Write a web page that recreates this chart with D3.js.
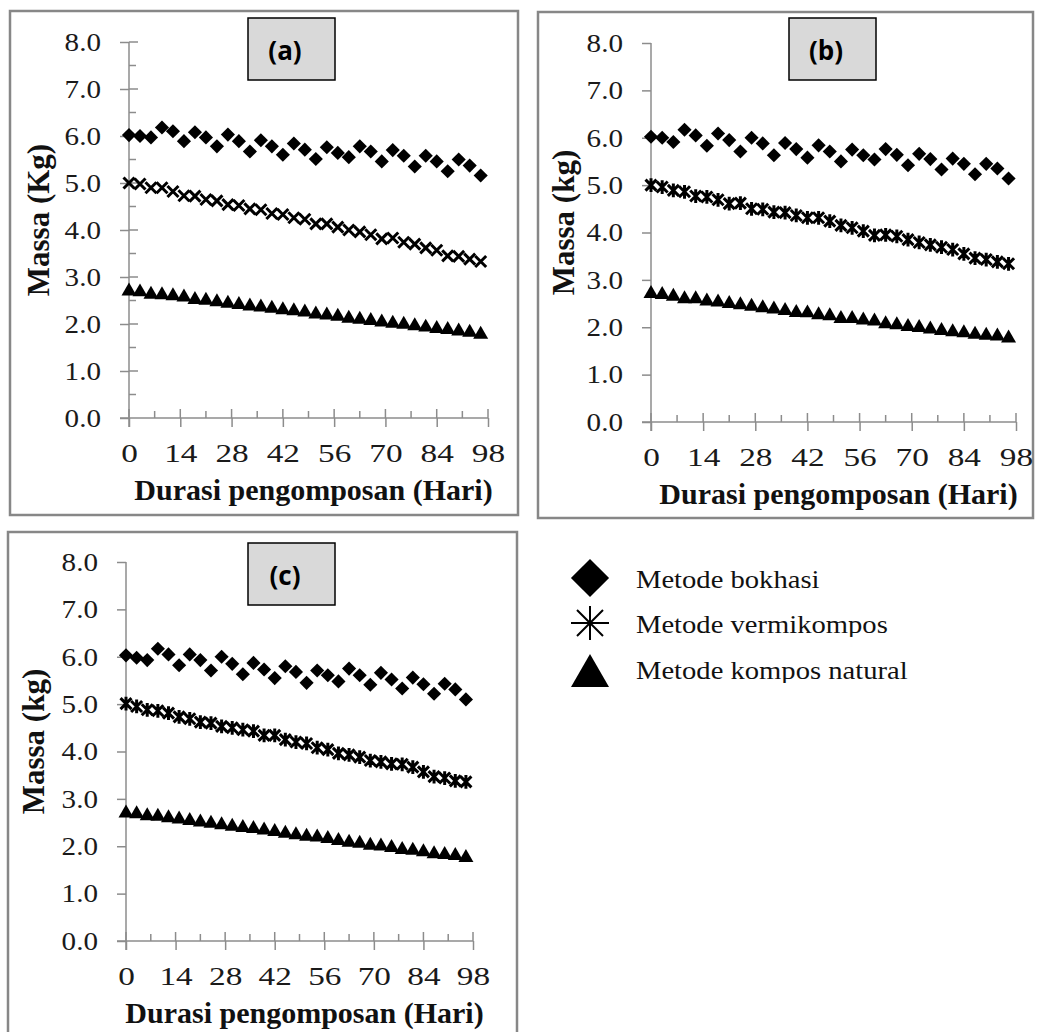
<!DOCTYPE html>
<html>
<head>
<meta charset="utf-8">
<script src="https://cdn.jsdelivr.net/npm/d3@7"></script>
<style>
  body { margin: 0; background: #fff; }
  svg { display: block; }
</style>
</head>
<body>
<div id="chart"></div>
<script>
// hari pengamatan (setiap 3 hari)
const days = [0, 3, 6, 9, 12, 15, 18, 21, 24, 27, 30, 33, 36, 39, 42, 45, 48, 51, 54, 57, 60, 63, 66, 69, 72, 75, 78, 81, 84, 87, 90, 93, 96];
const xTicks = [0, 14, 28, 42, 56, 70, 84, 98];
const xMinorTicks = [7, 21, 35, 49, 63, 77, 91];
const yTicks = [0, 1, 2, 3, 4, 5, 6, 7, 8];
const yMinorTicks = [0.5, 1.5, 2.5, 3.5, 4.5, 5.5, 6.5, 7.5];

// panel (a)
const bokhasiA = [6.02, 6.0, 5.97, 6.18, 6.1, 5.89, 6.08, 5.97, 5.78, 6.03, 5.89, 5.67, 5.91, 5.78, 5.6, 5.84, 5.71, 5.51, 5.76, 5.64, 5.55, 5.78, 5.67, 5.46, 5.7, 5.58, 5.35, 5.58, 5.46, 5.25, 5.5, 5.37, 5.16];
const vermiA = [5.0, 4.98, 4.9, 4.9, 4.82, 4.73, 4.72, 4.65, 4.62, 4.54, 4.52, 4.45, 4.43, 4.35, 4.33, 4.26, 4.23, 4.13, 4.13, 4.06, 4.0, 3.96, 3.9, 3.81, 3.83, 3.74, 3.7, 3.62, 3.57, 3.45, 3.44, 3.38, 3.33];
const naturalA = [2.7, 2.68, 2.63, 2.62, 2.6, 2.57, 2.52, 2.5, 2.47, 2.44, 2.41, 2.38, 2.36, 2.33, 2.3, 2.28, 2.25, 2.21, 2.19, 2.16, 2.12, 2.1, 2.07, 2.04, 2.01, 1.99, 1.96, 1.93, 1.9, 1.88, 1.85, 1.82, 1.78];

// panel (b)
const bokhasiB = [6.02, 6.0, 5.91, 6.17, 6.05, 5.83, 6.09, 5.95, 5.71, 6.0, 5.88, 5.63, 5.89, 5.76, 5.58, 5.84, 5.71, 5.5, 5.75, 5.63, 5.54, 5.76, 5.64, 5.42, 5.66, 5.55, 5.33, 5.56, 5.45, 5.23, 5.45, 5.35, 5.14];
const vermiB = [5.0, 4.96, 4.89, 4.86, 4.77, 4.75, 4.69, 4.61, 4.62, 4.5, 4.49, 4.43, 4.42, 4.36, 4.31, 4.31, 4.24, 4.15, 4.1, 4.03, 3.94, 3.95, 3.92, 3.85, 3.79, 3.74, 3.69, 3.64, 3.55, 3.46, 3.43, 3.38, 3.34];
const naturalB = [2.71, 2.69, 2.65, 2.6, 2.6, 2.55, 2.53, 2.5, 2.47, 2.44, 2.41, 2.38, 2.35, 2.31, 2.3, 2.26, 2.24, 2.18, 2.18, 2.15, 2.13, 2.07, 2.05, 2.01, 1.99, 1.96, 1.93, 1.9, 1.88, 1.85, 1.83, 1.81, 1.77];

// panel (c)
const bokhasiC = [6.03, 5.98, 5.93, 6.17, 6.05, 5.82, 6.05, 5.93, 5.71, 6.0, 5.85, 5.63, 5.87, 5.73, 5.55, 5.8, 5.68, 5.45, 5.71, 5.61, 5.48, 5.75, 5.61, 5.41, 5.66, 5.52, 5.33, 5.56, 5.42, 5.22, 5.43, 5.31, 5.1];
const vermiC = [5.01, 4.95, 4.88, 4.86, 4.81, 4.73, 4.69, 4.62, 4.6, 4.53, 4.5, 4.46, 4.43, 4.34, 4.34, 4.25, 4.2, 4.17, 4.08, 4.04, 3.96, 3.93, 3.88, 3.81, 3.78, 3.74, 3.73, 3.67, 3.57, 3.47, 3.44, 3.38, 3.36];
const naturalC = [2.7, 2.68, 2.64, 2.63, 2.6, 2.57, 2.54, 2.51, 2.48, 2.45, 2.42, 2.39, 2.37, 2.34, 2.31, 2.27, 2.24, 2.21, 2.19, 2.16, 2.12, 2.08, 2.06, 2.02, 2.0, 1.97, 1.93, 1.91, 1.88, 1.84, 1.82, 1.8, 1.76];

const legendLabels = ["Metode bokhasi", "Metode vermikompos", "Metode kompos natural"];

const W = 1037, H = 1032;
const serif = "'Liberation Serif', 'Times New Roman', serif";
const axisColor = "#8c8c8c";

const svg = d3.select("#chart").append("svg")
    .attr("width", W)
    .attr("height", H);

// pengaturan tata letak tiap panel
const panels = [
    { tag: "(a)", box: [10, 11, 508, 504], x0: 129, x1: 488, y0: 418, y1: 42, label: [248, 18, 87, 62],
      yTitle: "Massa (Kg)", yTitleX: 38, cross: true, minorY: true, xStar: false,
      series: [bokhasiA, vermiA, naturalA] },
    { tag: "(b)", box: [538, 12, 495, 506], x0: 651, x1: 1016, y0: 422, y1: 43, label: [789, 18, 87, 62],
      yTitle: "Massa (kg)", yTitleX: 563, cross: false, minorY: false, xStar: true,
      series: [bokhasiB, vermiB, naturalB] },
    { tag: "(c)", box: [8, 532, 509, 530], x0: 126, x1: 473, y0: 941, y1: 562, label: [248, 543, 87, 62],
      yTitle: "Massa (kg)", yTitleX: 33, cross: false, minorY: false, xStar: true,
      series: [bokhasiC, vermiC, naturalC] }
];

// bentuk marker
function crossPath(r, star) {
    let p = `M${-r},${-r}L${r},${r}M${-r},${r}L${r},${-r}`;
    if (star) p += `M0,${-r * 1.25}L0,${r * 1.25}`;
    return p;
}
const diamond = s => d3.symbol(d3.symbolSquare, s * s)();
const triangle = side => d3.symbol(d3.symbolTriangle, Math.sqrt(3) / 4 * side * side)();

panels.forEach(drawPanel);

function drawPanel(p) {
    const g = svg.append("g");

    g.append("rect")
        .attr("x", p.box[0]).attr("y", p.box[1])
        .attr("width", p.box[2]).attr("height", p.box[3])
        .attr("fill", "#fff")
        .attr("stroke", "#878787")
        .attr("stroke-width", 2.5);

    const x = d3.scaleLinear().domain([0, 98]).range([p.x0, p.x1]);
    const y = d3.scaleLinear().domain([0, 8]).range([p.y0, p.y1]);

    // sumbu X
    const xAxis = g.append("g")
        .attr("transform", `translate(0,${p.y0})`)
        .call(d3.axisBottom(x).tickValues(xTicks).tickSizeInner(9).tickSizeOuter(0).tickPadding(17));
    xAxis.select(".domain").remove();
    xAxis.selectAll(".tick text")
        .attr("transform", "scale(1.28,1)")
        .style("font-family", serif).style("font-size", "26px").attr("fill", "#1a1a1a");

    g.append("line")
        .attr("x1", p.x0 - 9).attr("x2", x(98))
        .attr("y1", p.y0).attr("y2", p.y0);
    g.selectAll(".xmaj-in").data(xTicks).join("line")
        .attr("x1", d => x(d)).attr("x2", d => x(d))
        .attr("y1", p.y0 - 9).attr("y2", p.y0);
    g.selectAll(".xmin").data(xMinorTicks).join("line")
        .attr("x1", d => x(d)).attr("x2", d => x(d))
        .attr("y1", p.y0 - 7).attr("y2", p.y0);

    // sumbu Y
    const yAxis = g.append("g")
        .attr("transform", `translate(${p.x0},0)`)
        .call(d3.axisLeft(y).tickValues(yTicks).tickFormat(d3.format(".1f")).tickSizeInner(9).tickSizeOuter(0).tickPadding(19));
    yAxis.select(".domain").remove();
    yAxis.selectAll(".tick text")
        .attr("x", -28 / 1.12)
        .attr("transform", "scale(1.12,1)")
        .style("font-family", serif).style("font-size", "26px").attr("fill", "#1a1a1a");

    g.append("line")
        .attr("x1", p.x0).attr("x2", p.x0)
        .attr("y1", y(8)).attr("y2", p.y0 + 9);
    if (p.cross) {
        g.selectAll(".ymaj-in").data(yTicks.slice(1)).join("line")
            .attr("x1", p.x0).attr("x2", p.x0 + 9)
            .attr("y1", d => y(d)).attr("y2", d => y(d));
    }
    if (p.minorY) {
        g.selectAll(".ymin").data(yMinorTicks).join("line")
            .attr("x1", p.x0).attr("x2", p.x0 + 7)
            .attr("y1", d => y(d)).attr("y2", d => y(d));
    }
    g.selectAll("line").attr("stroke", axisColor).attr("stroke-width", 1.5);

    // judul sumbu
    g.append("text")
        .attr("x", (p.x0 + x(98)) / 2 + 5)
        .attr("y", p.y0 + 82)
        .attr("text-anchor", "middle")
        .style("font-family", serif).style("font-size", "30px").style("font-weight", "bold")
        .attr("fill", "#111")
        .text("Durasi pengomposan (Hari)");

    g.append("text")
        .attr("transform", `translate(${p.yTitleX},${(p.y0 + p.y1) / 2 - 10}) rotate(-90)`)
        .attr("text-anchor", "middle")
        .attr("dominant-baseline", "central")
        .style("font-family", serif).style("font-size", "31px").style("font-weight", "bold")
        .attr("fill", "#111")
        .text(p.yTitle);

    // kotak label panel
    g.append("rect")
        .attr("x", p.label[0]).attr("y", p.label[1])
        .attr("width", p.label[2]).attr("height", p.label[3])
        .attr("fill", "#d9d9d9")
        .attr("stroke", "#000")
        .attr("stroke-width", 1.5);
    g.append("text")
        .attr("x", p.label[0] + 37)
        .attr("y", p.label[1] + 32)
        .attr("text-anchor", "middle")
        .attr("dominant-baseline", "central")
        .style("font-family", "'Open Sans', sans-serif").style("font-size", "26px").style("font-weight", "bold")
        .attr("fill", "#000")
        .text(p.tag);

    const [bok, ver, nat] = p.series;

    // metode kompos natural
    g.append("g").selectAll("path").data(days.map((d, i) => [d, nat[i]])).join("path")
        .attr("d", triangle(15))
        .attr("transform", d => `translate(${x(d[0])},${y(d[1])})`)
        .attr("fill", "#000");

    // metode vermikompos
    g.append("g").selectAll("path").data(days.map((d, i) => [d, ver[i]])).join("path")
        .attr("d", crossPath(5.5, p.xStar))
        .attr("transform", d => `translate(${x(d[0])},${y(d[1])})`)
        .attr("fill", "none")
        .attr("stroke", "#000")
        .attr("stroke-width", 3);

    // metode bokhasi
    g.append("g").selectAll("path").data(days.map((d, i) => [d, bok[i]])).join("path")
        .attr("d", diamond(10))
        .attr("transform", d => `translate(${x(d[0])},${y(d[1])}) rotate(45)`)
        .attr("fill", "#000");
}

// legenda
const legend = svg.append("g");
const legendY = [588, 633, 679];

legend.append("path")
    .attr("d", diamond(27))
    .attr("transform", `translate(590,578) rotate(45)`)
    .attr("fill", "#000");
legend.append("path")
    .attr("d", `M-19,0L19,0M-13,-13L13,13M-13,13L13,-13M0,-17L0,17`)
    .attr("transform", `translate(590,623)`)
    .attr("stroke", "#000").attr("stroke-width", 2).attr("fill", "none");
legend.append("path")
    .attr("d", triangle(38))
    .attr("transform", `translate(590,676)`)
    .attr("fill", "#000");

const defs = svg.append("defs");
legendLabels.forEach((t, i) => {
    defs.append("clipPath").attr("id", "clip" + i)
        .append("rect").attr("x", 620).attr("y", legendY[i] - 40).attr("width", 400).attr("height", 44);
    legend.append("g")
        .attr("clip-path", `url(#clip${i})`)
        .append("text")
        .attr("transform", `translate(636,${legendY[i]}) scale(1.1,1)`)
        .style("font-family", serif).style("font-size", "26px")
        .attr("fill", "#111")
        .text(t);
});
</script>
</body>
</html>
